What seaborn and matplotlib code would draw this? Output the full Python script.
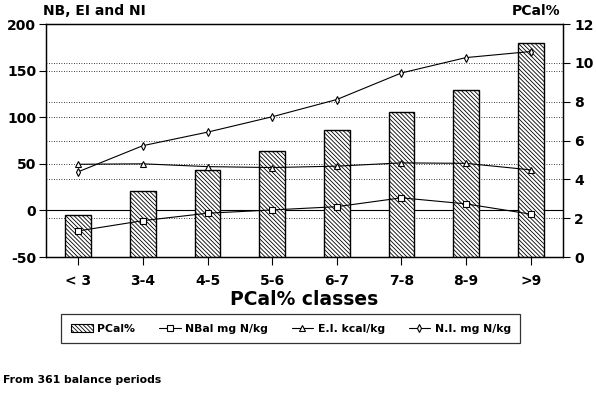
import matplotlib
matplotlib.use("Agg")
import matplotlib.pyplot as plt
import numpy as np
import seaborn as sns
from matplotlib.patches import Patch
from matplotlib.lines import Line2D
from matplotlib.ticker import FixedLocator

# Values
classes = ["< 3", "3-4", "4-5", "5-6", "6-7", "7-8", "8-9", ">9"]
pcal = [2.15, 3.4, 4.5, 5.45, 6.55, 7.45, 8.6, 11.0]          # right axis
nbal = [-22, -11, -3, 0.5, 4, 13.5, 7, -4]                    # mg N/kg
ei = [49.5, 50, 47, 46, 47.5, 51, 50.5, 43.5]                 # kcal/kg
ni = [41.5, 69.5, 84, 100.5, 119, 147.5, 164, 170.5]          # mg N/kg

left_lim = (-50, 200)
right_lim = (0, 12)
hatch = "\\" * 8

sns.set_style("white")
plt.rcParams["font.family"] = ["DejaVu Sans"]
plt.rcParams["font.weight"] = "bold"
plt.rcParams["axes.unicode_minus"] = False
plt.rcParams["hatch.linewidth"] = 0.6
for key in ("text.color", "axes.labelcolor", "xtick.color", "ytick.color"):
    plt.rcParams[key] = "black"

fig = plt.figure(figsize=(5.96, 3.94), dpi=100)
ax = fig.add_axes([0.0772, 0.3477, 0.8674, 0.5913])
ax2 = ax.twinx()

# bars on the right (PCal%) axis, drawn underneath the lines
sns.barplot(x=classes, y=pcal, ax=ax2, color="white", edgecolor="black",
            linewidth=1.0, width=0.4, hatch=hatch, saturation=1, zorder=3)
ax.set_zorder(ax2.get_zorder() + 1)
ax.patch.set_visible(False)

line_kw = dict(color="black", linewidth=0.8, markersize=4,
               markerfacecolor="white", markeredgecolor="black", markeredgewidth=0.8)
sns.pointplot(x=classes, y=nbal, ax=ax, marker="s", **line_kw)
sns.pointplot(x=classes, y=ei, ax=ax, marker="^", **line_kw)
sns.pointplot(x=classes, y=ni, ax=ax, marker="d", **line_kw)

ax.set_ylim(*left_lim)
ax2.set_ylim(*right_lim)
ax.set_xlim(-0.5, len(classes) - 0.5)
ax.set_yticks(np.arange(-50, 201, 50))
ax2.set_yticks(np.arange(0, 13, 2))

# dotted grid for both scales, kept on the bar axis so bars hide it
span_l = left_lim[1] - left_lim[0]
left_grid = [(v - left_lim[0]) / span_l * right_lim[1] for v in (50, 100, 150)]
ax2.yaxis.set_minor_locator(FixedLocator(left_grid))
ax2.grid(axis="y", which="both", linestyle=(0, (1, 2)), color="black", linewidth=0.6)
ax2.set_axisbelow(True)
ax2.axhline((0 - left_lim[0]) / span_l * right_lim[1], color="black", linewidth=0.8, zorder=1)

for a in (ax, ax2):
    for s in a.spines.values():
        s.set_color("black")
        s.set_linewidth(0.9)
    a.tick_params(axis="both", which="major", direction="out", length=5, width=0.8,
                  colors="black", labelsize=10)
    a.tick_params(axis="y", which="minor", length=0)
ax.tick_params(axis="y", left=True, pad=2)
ax2.tick_params(axis="y", right=True, pad=3)
ax.tick_params(axis="x", bottom=True, length=6, pad=6)
ax.set_xticks(range(len(classes)))
ax.set_xticklabels(classes, fontsize=10, fontweight="bold")
for lab in ax.get_yticklabels() + ax2.get_yticklabels():
    lab.set_fontweight("bold")
ax.set_ylabel("")
ax2.set_ylabel("")
ax.set_xlabel("PCal% classes", fontsize=13.5, fontweight="bold", labelpad=2)

fig.text(0.072, 0.99, "NB, EI and NI", fontsize=10, fontweight="bold", ha="left", va="top")
fig.text(0.94, 0.99, "PCal%", fontsize=10, fontweight="bold", ha="right", va="top")
fig.text(0.005, 0.035, "From 361 balance periods", fontsize=7.8, fontweight="bold",
         ha="left", va="center")

handles = [
    Patch(facecolor="white", edgecolor="black", hatch=hatch, linewidth=0.8),
    Line2D([], [], marker="s", **line_kw),
    Line2D([], [], marker="^", **line_kw),
    Line2D([], [], marker="d", **line_kw),
]
labels = ["PCal%", "NBal mg N/kg", "E.I. kcal/kg", "N.I. mg N/kg"]
leg = fig.legend(handles, labels, ncol=4, loc="center", bbox_to_anchor=(0.488, 0.166),
                 frameon=True, fancybox=False, edgecolor="black",
                 handlelength=2.0, handletextpad=0.4, columnspacing=2.2,
                 borderpad=0.9, prop={"weight": "bold", "size": 7.8})
leg.get_frame().set_linewidth(0.9)

fig.savefig("out.png", dpi=100)
